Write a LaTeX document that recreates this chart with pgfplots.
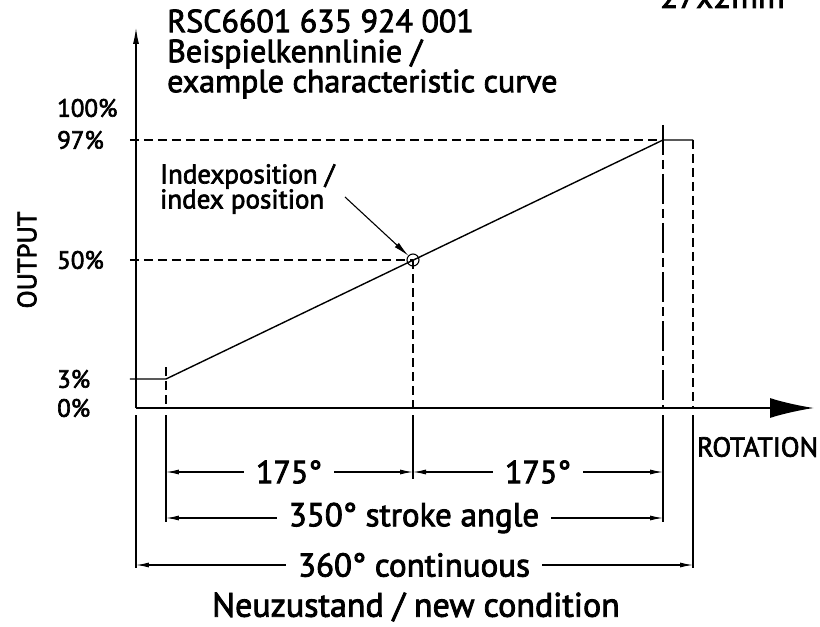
\documentclass[border=0pt]{standalone}
\usepackage{pgfplots}
\pgfplotsset{compat=1.18}
\usepackage{fontspec}
\setmainfont{PT Sans}[FakeBold=2.5]
\usetikzlibrary{arrows.meta}
\newcommand\fs[1]{\fontsize{#1}{#1}\selectfont}
\begin{document}
\begin{tikzpicture}
\begin{axis}[
  scale only axis, width=678pt, height=380pt,
  xmin=0,xmax=678,ymin=0,ymax=380,
  axis x line=bottom, axis y line=left,
  x axis line style={line width=1.8pt, -{Latex[length=44pt,width=20pt]}},
  y axis line style={line width=1.1pt, -{Latex[length=16pt,width=6pt]}},
  xtick=\empty,
  ytick={0,29,148,268,300},
  yticklabels={0\%,3\%,50\%,97\%,100\%},
  major tick length=0pt,
  yticklabel style={anchor=west, xshift=-79pt, font=\fs{25}, inner sep=0pt},
  clip=false,
  at={(0,0)}, anchor=south west,
]
% characteristic curve
\addplot[line width=1.4pt] coordinates {(-6,29)(30,29)(527,268)(557,268)};
% dashed guide lines
\addplot[line width=1.1pt, dash pattern=on 9pt off 5pt] coordinates {(-6,268)(527,268)};
\addplot[line width=1.1pt, dash pattern=on 9pt off 5pt] coordinates {(-6,148)(277,148)};
\addplot[line width=1.1pt, dash pattern=on 9pt off 5pt] coordinates {(30,41)(30,0)};
\addplot[line width=1.1pt, dash pattern=on 9pt off 5pt] coordinates {(277,148)(277,0)};
\addplot[line width=1.1pt, dash pattern=on 30pt off 5pt on 9pt off 5pt] coordinates {(527,283)(527,0)};
\addplot[line width=1.1pt, dash pattern=on 9pt off 5pt] coordinates {(557,268)(557,0)};
% extension lines below the axis
\addplot[line width=1.1pt] coordinates {(0,-7)(0,-160)};
\addplot[line width=1.1pt] coordinates {(30,-7)(30,-114)};
\addplot[line width=1.1pt] coordinates {(277,-7)(277,-71)};
\addplot[line width=1.1pt] coordinates {(527,-7)(527,-114)};
\addplot[line width=1.1pt] coordinates {(557,-7)(557,-160)};
% index position circle
\addplot[only marks, mark=o, mark size=6pt, mark options={line width=1.1pt}] coordinates {(277,148)};
% dimension lines
\draw[line width=1.1pt, {Latex[length=13pt,width=5pt]}-{Latex[length=13pt,width=5pt]}] (axis cs:30,-64) -- (axis cs:277,-64);
\draw[line width=1.1pt, {Latex[length=13pt,width=5pt]}-{Latex[length=13pt,width=5pt]}] (axis cs:277,-64) -- (axis cs:527,-64);
\draw[line width=1.1pt, {Latex[length=13pt,width=5pt]}-{Latex[length=13pt,width=5pt]}] (axis cs:30,-110) -- (axis cs:527,-110);
\draw[line width=1.1pt, {Latex[length=13pt,width=5pt]}-{Latex[length=13pt,width=5pt]}] (axis cs:0,-157) -- (axis cs:557,-157);
\node[fill=white, inner xsep=12pt, inner ysep=1pt, font=\fs{32}] at (axis cs:153,-64) {175°};
\node[fill=white, inner xsep=12pt, inner ysep=1pt, font=\fs{32}] at (axis cs:402,-64) {175°};
\node[fill=white, inner xsep=12pt, inner ysep=1pt, font=\fs{33}] at (axis cs:278,-110) {350° stroke angle};
\node[fill=white, inner xsep=12pt, inner ysep=1pt, font=\fs{33}] at (axis cs:278,-157) {360° continuous};
\node[font=\fs{34}] at (axis cs:280,-199) {Neuzustand / new condition};
% annotation
\draw[line width=1.1pt, -{Latex[length=16pt,width=6pt]}] (axis cs:209,211) -- (axis cs:272.6,152.1);
\node[anchor=west, align=left, font=\fontsize{27}{25}\selectfont, inner sep=0pt] at (axis cs:24,219) {Indexposition /\\index position};
% titles and axis names
\node[anchor=west, align=left, font=\fontsize{32}{30}\selectfont, inner sep=0pt] at (axis cs:31,354) {RSC6601 635 924 001\\Beispielkennlinie /\\example characteristic curve};
\node[anchor=base west, font=\fs{33}, inner sep=0pt] at (axis cs:524,400) {27x2mm};
\node[anchor=west, font=\fs{27.5}, inner sep=0pt] at (axis cs:561,-39) {ROTATION};
\node[rotate=90, font=\fs{26.5}, inner sep=0pt] at (axis cs:-109,148) {OUTPUT};
\end{axis}
\pgfresetboundingbox
\path[use as bounding box] (-136pt,-219pt) rectangle (684pt,408pt);
\end{tikzpicture}
\end{document}
